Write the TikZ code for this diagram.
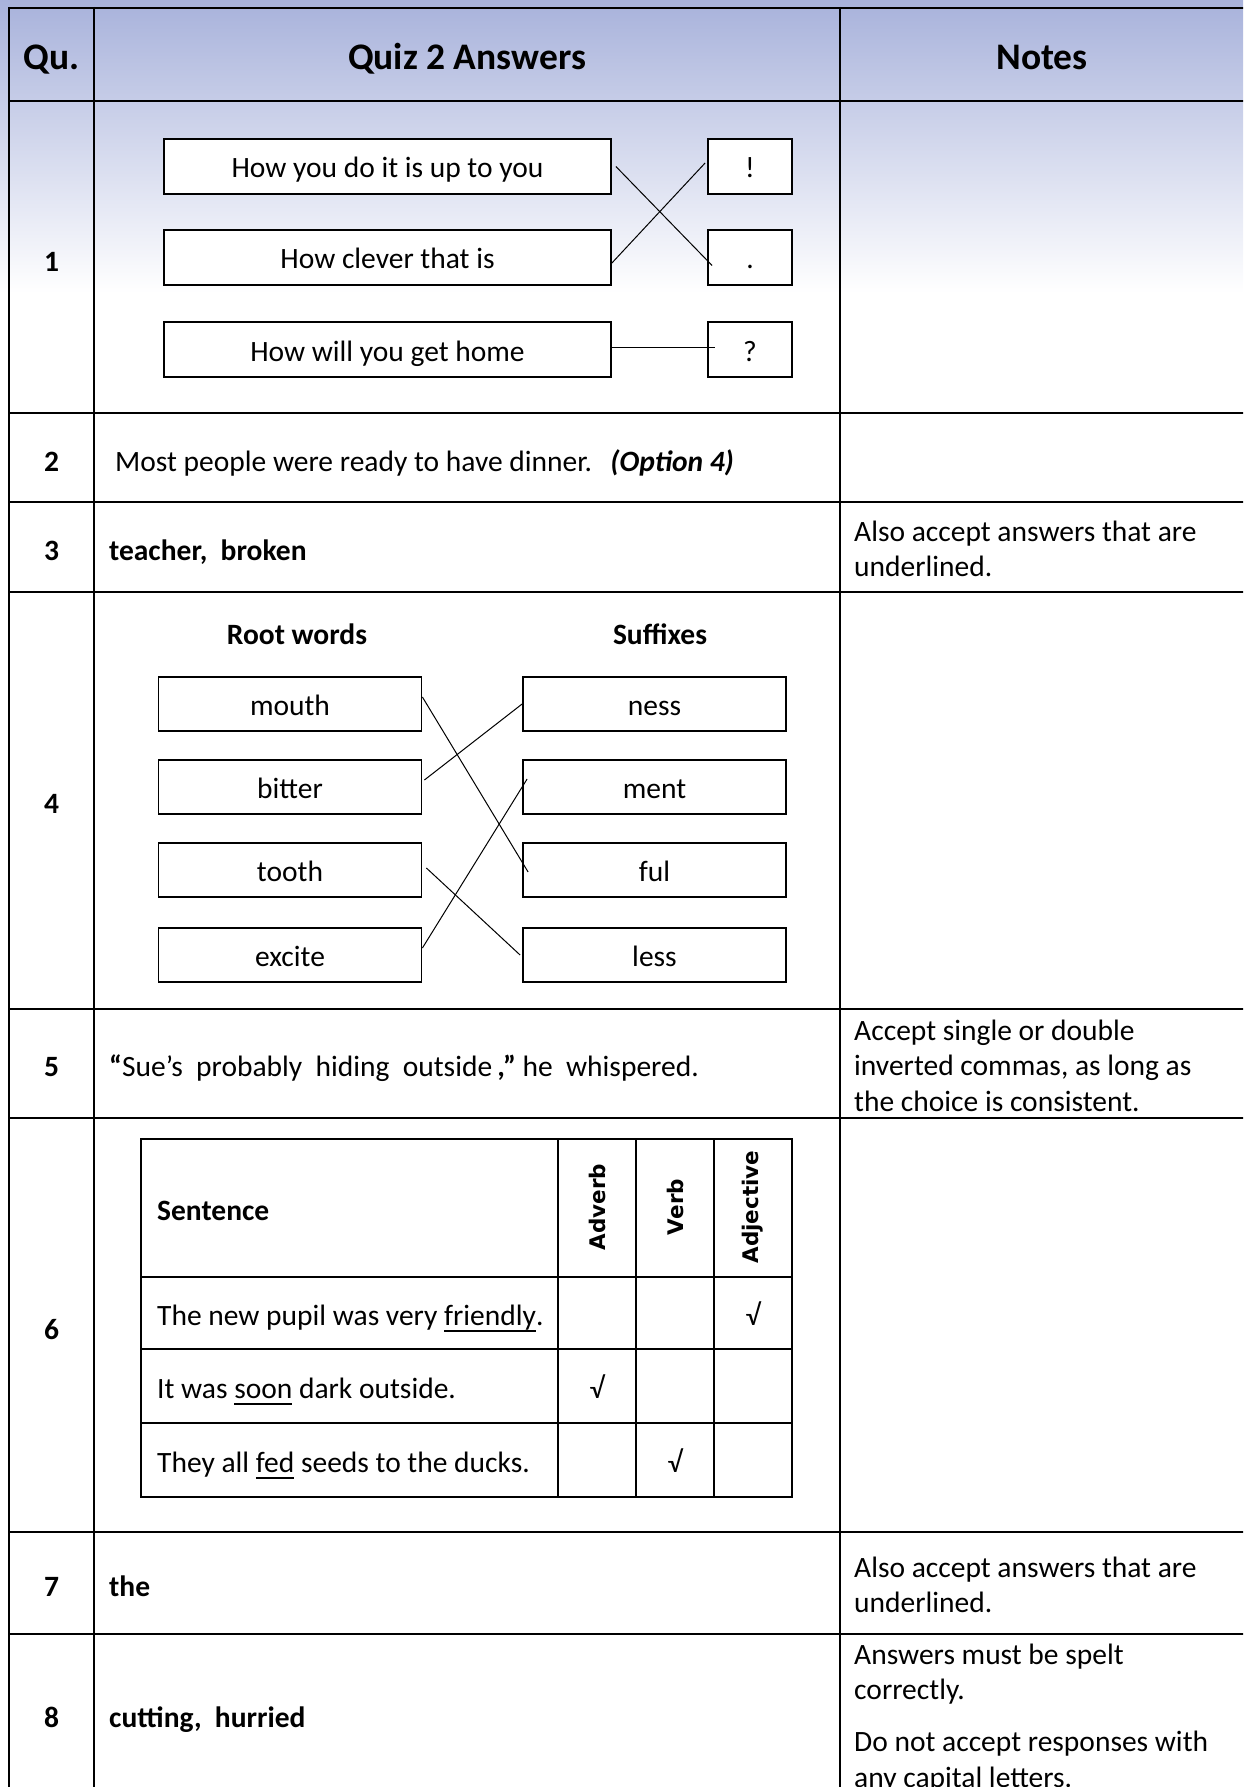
\documentclass[tikz,border=0pt]{standalone}
\usepackage{fontspec}
\setmainfont{Carlito}
\newfontfamily\sidefont{DejaVu Sans}

\definecolor{bandblue}{RGB}{168,178,219}

\newcommand{\bodyfont}{\fontsize{29.5}{35.4}\selectfont}
\newcommand{\titlefont}{\fontsize{37.5}{45}\selectfont\bfseries}
\newcommand{\undl}[1]{\setbox0\hbox{#1}\rlap{\rule[-6pt]{\wd0}{1.8pt}}\box0\relax}

\begin{document}
\begin{tikzpicture}[x=1pt, y=-1pt,
    every node/.style={font=\bodyfont, inner sep=0pt},
    oneline/.style={text height=23pt, text depth=0pt},
    rowrule/.style={line width=2.6pt},
    colrule/.style={line width=2pt},
    gridline/.style={line width=2pt},
    headtext/.style={font=\titlefont, text height=30pt, text depth=1pt},
    qnum/.style={oneline, font=\bodyfont\bfseries},
    answer/.style={oneline, anchor=west},
    note/.style={anchor=north west, align=left},
    phrase/.style={oneline, draw, line width=1.8pt, fill=white, minimum width=447pt, minimum height=55pt},
    punct/.style={oneline, draw, line width=1.8pt, fill=white, minimum width=84pt, minimum height=55pt},
    wordbox/.style={oneline, draw, line width=1.8pt, fill=white, minimum width=263pt, minimum height=54pt},
    link/.style={line width=1pt},
    tick/.style={oneline},
    sidehead/.style={rotate=90, font=\sidefont\fontsize{21.5}{26}\selectfont\bfseries}
]
    \useasboundingbox (0,0) rectangle (1243,1787);
    \clip (0,0) rectangle (1243,1787);

    % Background: blue band fading into white
    \fill[white] (0,0) rectangle (1243,1787);
    \fill[top color=bandblue, bottom color=white] (0,0) rectangle (1243,293);

    % Table rules
    \foreach \y in {8,101,413,502,592,1009,1118,1532,1634}
        \draw[rowrule] (8,\y) -- (1250,\y);
    \foreach \x in {9,94,840}
        \draw[colrule] (\x,7) -- (\x,1800);

    % Header row
    \node[headtext] (hqu) at (51.5,55) {Qu.};
    \node[headtext] (hquiz) at (467,55) {Quiz 2 Answers};
    \node[headtext] (hnotes) at (1042,55) {Notes};

    % Question numbers
    \node[qnum] (n1) at (51.5,260) {1};
    \node[qnum] (n2) at (51.5,460) {2};
    \node[qnum] (n3) at (51.5,549) {3};
    \node[qnum] (n4) at (51.5,802) {4};
    \node[qnum] (n5) at (51.5,1065) {5};
    \node[qnum] (n6) at (51.5,1328) {6};
    \node[qnum] (n7) at (51.5,1585) {7};
    \node[qnum] (n8) at (51.5,1716) {8};

    % Qu. 1: sentences and punctuation
    \node[phrase] (l1) at (387.5,166.5) {How you do it is up to you};
    \node[phrase] (l2) at (387.5,257.5) {How clever that is};
    \node[phrase] (l3) at (387.5,349.5) {How will you get home};
    \node[punct] (p1) at (750,166.5) {!};
    \node[punct] (p2) at (750,257.5) {.};
    \node[punct] (p3) at (750,349.5) {?};
    \draw[link] ([xshift=4pt]l1.east) -- ([xshift=5pt,yshift=-8pt]p2.west);
    \draw[link] ([yshift=-5.5pt]l2.east) -- ([xshift=-2pt,yshift=3.5pt]p1.west);
    \draw[link] ([yshift=2pt]l3.east) -- ([xshift=8pt,yshift=2pt]p3.west);

    % Qu. 2 and 3
    \node[answer] (a2) at (115,460) {Most people were ready to have dinner.\ \ \,\textbf{\textit{(Option 4)}}};
    \node[answer] (a3) at (109,549) {\bfseries teacher,\ \ broken};
    \node[note] (nt3) at (854,519) {\rule{0pt}{22pt}Also accept answers that are\\underlined.};

    % Qu. 4: root words and suffixes
    \node[oneline, font=\bodyfont\bfseries] (hroot) at (297,633) {Root words};
    \node[oneline, font=\bodyfont\bfseries] (hsuf) at (660,633) {Suffixes};
    \node[wordbox] (mouth) at (290,704) {mouth};
    \node[wordbox] (bitter) at (290,787) {bitter};
    \node[wordbox] (tooth) at (290,870) {tooth};
    \node[wordbox] (excite) at (290,955) {excite};
    \node[wordbox] (ness) at (654.5,704) {ness};
    \node[wordbox] (ment) at (654.5,787) {ment};
    \node[wordbox] (ful) at (654.5,870) {ful};
    \node[wordbox] (less) at (654.5,955) {less};
    \draw[link] ([yshift=7pt]mouth.east) -- ([xshift=6pt,yshift=-2pt]ful.west);
    \draw[link] ([xshift=2pt,yshift=7pt]bitter.east) -- (ness.west);
    \draw[link] ([xshift=4pt,yshift=2pt]tooth.east) -- ([xshift=-2pt]less.west);
    \draw[link] ([yshift=7pt]excite.east) -- ([xshift=5pt,yshift=8pt]ment.west);

    % Qu. 5
    \node[answer] (a5) at (109,1065) {{\bfseries “}Sue’s\ \ probably\ \ hiding\ \ outside\,{\bfseries ,”} he\ \ whispered.};
    \node[note] (nt5) at (854,1018) {\rule{0pt}{22pt}Accept single or double\\inverted commas, as long as\\the choice is consistent.};

    % Qu. 6: word class table
    \draw[gridline] (141,1139) rectangle (792,1497);
    \foreach \x in {558,636,714}
        \draw[gridline] (\x,1139) -- (\x,1497);
    \foreach \y in {1277,1349,1423}
        \draw[gridline] (141,\y) -- (792,\y);
    \node[answer, font=\bodyfont\bfseries] (sent) at (157,1209) {Sentence};
    \node[sidehead] (adv) at (597,1207) {Adverb};
    \node[sidehead] (verb) at (675,1207) {Verb};
    \node[sidehead] (adj) at (753,1207) {Adjective};
    \node[answer] (s1) at (157,1314) {The new pupil was very \undl{friendly}.};
    \node[answer] (s2) at (157,1387) {It was \undl{soon} dark outside.};
    \node[answer] (s3) at (157,1461) {They all \undl{fed} seeds to the ducks.};
    \node[tick] (t1) at (753,1314) {√};
    \node[tick] (t2) at (597,1387) {√};
    \node[tick] (t3) at (675,1461) {√};

    % Qu. 7 and 8
    \node[answer] (a7) at (109,1585) {\bfseries the};
    \node[note] (nt7) at (854,1555) {\rule{0pt}{22pt}Also accept answers that are\\underlined.};
    \node[answer] (a8) at (109,1716) {\bfseries cutting,\ \ hurried};
    \node[note] (nt8) at (854,1642) {\rule{0pt}{22pt}Answers must be spelt\\correctly.\\[16.6pt]Do not accept responses with\\any capital letters.};
\end{tikzpicture}
\end{document}
